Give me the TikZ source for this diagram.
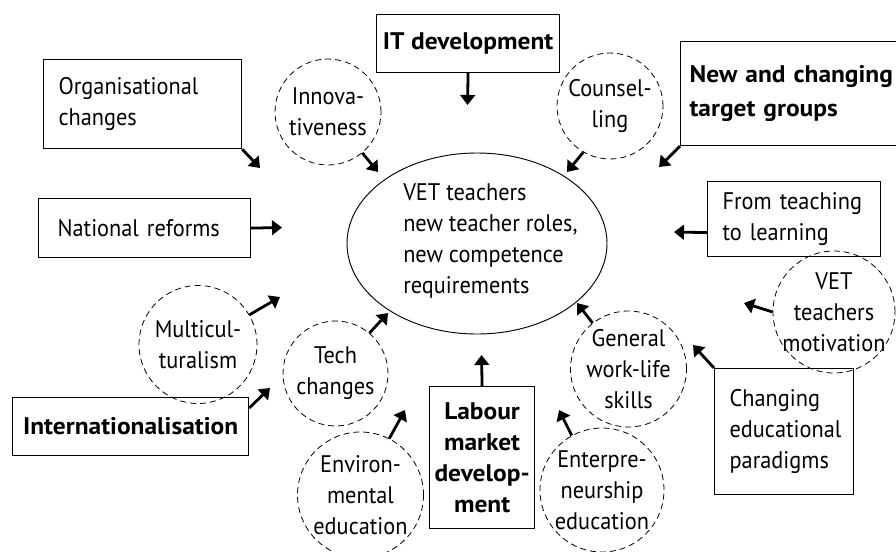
\documentclass[tikz,border=0pt]{standalone}
\usepackage{fontspec}
\setmainfont{PT Sans}[FakeStretch=0.93, BoldFeatures={FakeStretch=1.06}]
\usetikzlibrary{arrows.meta,calc,shapes.geometric}

\begin{document}
\begin{tikzpicture}[x=0.75pt,y=-0.75pt,
  font=\fontsize{18pt}{23.25pt}\selectfont,
  every node/.style={inner ysep=0pt},
  frame/.style={draw, line width=0.9pt, rectangle, anchor=north west},
  lbox/.style n args={4}{frame, minimum width=#1, minimum height=#2,
    text width=#3, inner xsep=#4, align=left,
    execute at begin node={\hyphenpenalty=10000 \exhyphenpenalty=10000 }},
  cbox/.style 2 args={frame, minimum width=#1, minimum height=#2,
    inner xsep=0pt, align=center, font=\fontsize{18pt}{23.25pt}\selectfont\bfseries},
  dcirc/.style={draw, circle, dash pattern=on 4.5pt off 3pt, line width=0.6pt, inner sep=0pt},
  clabel/.style={align=center, inner sep=0pt},
  hub/.style={draw, ellipse, line width=0.7pt, inner sep=0pt},
  arr/.style={line width=2.1pt, -{Triangle[length=7.5pt,width=11pt]}}
]
\useasboundingbox (0,0) rectangle (896,551);
\clip (0,0) rectangle (896,551);

% central ellipse and its text
\node[hub, minimum width=195pt, minimum height=135.75pt] (hub) at (477,243.5) {};
\node[anchor=west, align=left, inner xsep=0pt] (roles) at (403,241)
  {VET teachers\\new teacher roles,\\new competence\\requirements};

% framed influences
\node[lbox={148.5pt}{66.75pt}{126pt}{11.25pt}] (org) at (43,59) {Organisational\\changes};
\node[lbox={159pt}{44.25pt}{130.5pt}{14.25pt}] (nat) at (38,198) {National~reforms};
\node[cbox={137.25pt}{43.5pt}] (itdev) at (376,14) {IT development};
\node[lbox={180pt}{78pt}{166.5pt}{6.75pt}, font=\fontsize{18pt}{25pt}\selectfont\bfseries]
  (newtg) at (680,41) {New~and~changing\\target~groups};
\node[lbox={129.75pt}{56.25pt}{107.25pt}{11.25pt}] (ftl) at (707,181) {From~teaching\\to~learning};
\node[cbox={177pt}{43.5pt}] (intl) at (12,397) {Internationalisation};
\node[cbox={78.75pt}{106.5pt}] (labour) at (429,386) {Labour\\market\\develop-\\ment};
\node[lbox={104.25pt}{94.5pt}{81.75pt}{11.25pt}] (ced) at (714,368) {Changing\\educational\\paradigms};

% dashed influences
\node[dcirc, minimum size=79.5pt, label={[clabel]center:Innova-\\tiveness}] (innov) at (328,112) {};
\node[dcirc, minimum size=79.5pt, label={[clabel]center:Counsel-\\ling}] (couns) at (610,106) {};
\node[dcirc, minimum size=88.5pt, label={[clabel]center:Multicul-\\turalism}] (multi) at (198,344.5) {};
\node[dcirc, minimum size=78.75pt, label={[clabel]center:Tech\\changes}] (tech) at (335.5,373.5) {};
\node[dcirc, minimum size=94.5pt, label={[clabel]center:Environ-\\mental\\education}] (env) at (360.5,495) {};
\node[dcirc, minimum size=87pt, label={[clabel]center:General\\work-life\\skills}] (gen) at (628.5,369) {};
\node[dcirc, minimum size=93pt, label={[clabel]center:Enterpre-\\neurship\\education}] (ent) at (602,490) {};
\node[dcirc, minimum size=91.5pt, label={[clabel]center:VET\\teachers\\motivation}] (vetm) at (834,312) {};

% free ends of the arrows, all pointing at the hub
\coordinate (orgT) at (260,168);
\coordinate (natT) at (282,227.5);
\coordinate (innovT) at (378,172);
\coordinate (itdevT) at (467.5,105);
\coordinate (counsT) at (567,172);
\coordinate (newtgT) at (659,167);
\coordinate (ftlT) at (674,232);
\coordinate (vetmT) at (744,303);
\coordinate (cedT) at (693,345);
\coordinate (genT) at (577,303);
\coordinate (entT) at (559,410);
\coordinate (labourT) at (481.5,355);
\coordinate (envT) at (405,410);
\coordinate (techT) at (388,313);
\coordinate (multiT) at (280,297);
\coordinate (intlT) at (270,388);

\draw[arr] (org.south east) -- (orgT);
\draw[arr] (nat.east) -- (natT);
\draw[arr] (innov.-50) -- (innovT);
\draw[arr] (itdev.south) -- (itdevT);
\draw[arr] (couns.-120) -- (counsT);
\draw[arr] (newtg.south west) -- (newtgT);
\draw[arr] ($(ftl.west)+(0,13.5)$) -- (ftlT);
\draw[arr] (vetm.180) -- (vetmT);
\draw[arr] (ced.north west) -- (cedT);
\draw[arr] (gen.128) -- (genT);
\draw[arr] (ent.119) -- (entT);
\draw[arr] (labour.north) -- (labourT);
\draw[arr] (env.63) -- (envT);
\draw[arr] (tech.50) -- (techT);
\draw[arr] (multi.30) -- (multiT);
\draw[arr] ($(intl.north east)+(0,11)$) -- (intlT);
\end{tikzpicture}
\end{document}
